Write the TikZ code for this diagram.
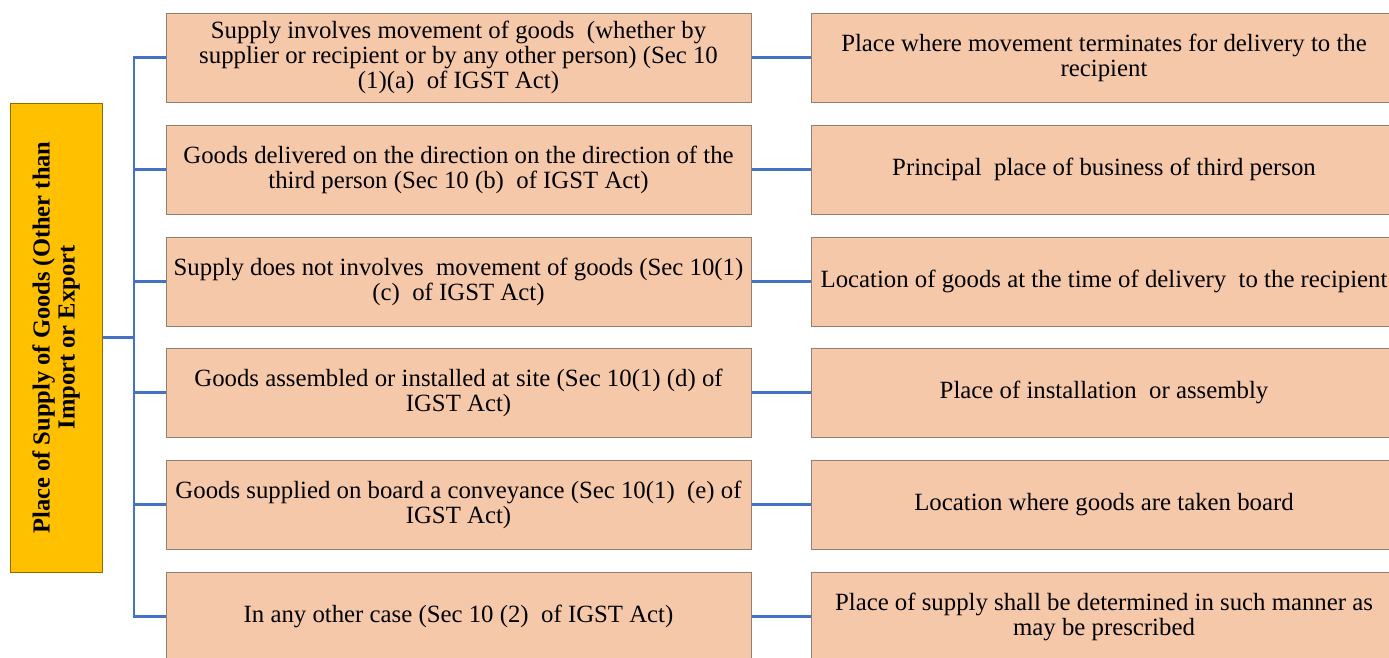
\documentclass[tikz,border=0pt]{standalone}
\usepackage{fontspec}
\setmainfont{Liberation Serif}
\definecolor{peach}{HTML}{F6C8AA}
\definecolor{boxedge}{HTML}{927F73}
\definecolor{gold}{HTML}{FFC000}
\definecolor{goldedge}{HTML}{8C6D00}
\definecolor{linkblue}{HTML}{4472C4}
\begin{document}
\begin{tikzpicture}[x=1pt,y=-1pt,
  box/.style={draw=boxedge, fill=peach, line width=1pt, minimum height=89pt,
    align=center, inner sep=0pt, font=\fontsize{24.8}{25}\selectfont},
  casebox/.style={box, minimum width=585pt},
  rulebox/.style={box, minimum width=586pt},
  rootbox/.style={draw=goldedge, fill=gold, line width=1pt, rotate=90,
    minimum width=469pt, minimum height=92pt, align=center, inner sep=0pt,
    font=\fontsize{24.5}{25}\selectfont\bfseries},
  link/.style={draw=linkblue, line width=2.5pt}]
\clip (0,0) rectangle (1389,657);
\fill[white] (0,0) rectangle (1389,657);

% root of the tree
\node[rootbox] (root) at (56,337.5) {Place of Supply of Goods (Other than\\Import or Export};

% cases (left column)
\node[casebox] (L1) at (458.5,57.5) {Supply involves movement of goods~ (whether by\\supplier or recipient or by any other person) (Sec 10\\(1)(a)~ of IGST Act)};
\node[casebox] (L2) at (458.5,169.5) {Goods delivered on the direction on the direction of the\\third person (Sec 10 (b)~ of IGST Act)};
\node[casebox] (L3) at (458.5,281.5) {Supply does not involves~ movement of goods (Sec 10(1)\\(c)~ of IGST Act)};
\node[casebox] (L4) at (458.5,392.5) {Goods assembled or installed at site (Sec 10(1) (d) of\\IGST Act)};
\node[casebox] (L5) at (458.5,504.5) {Goods supplied on board a conveyance (Sec 10(1)~ (e) of\\IGST Act)};
\node[casebox] (L6) at (458.5,616.5) {In any other case (Sec 10 (2)~ of IGST Act)};

% place of supply (right column)
\node[rulebox] (R1) at (1104,57.5) {Place where movement terminates for delivery to the\\recipient};
\node[rulebox] (R2) at (1104,169.5) {Principal~ place of business of third person};
\node[rulebox] (R3) at (1104,281.5) {Location of goods at the time of delivery~ to the recipient};
\node[rulebox] (R4) at (1104,392.5) {Place of installation~ or assembly};
\node[rulebox] (R5) at (1104,504.5) {Location where goods are taken board};
\node[rulebox] (R6) at (1104,616.5) {Place of supply shall be determined in such manner as\\may be prescribed};

% connectors
\coordinate (trunk) at (134,337.5);
\draw[link] (root.south) -- (trunk);
\foreach \i in {1,...,6} {
  \draw[link] (trunk) |- (L\i.west);
  \draw[link] (L\i.east) -- (R\i.west);
}
\end{tikzpicture}
\end{document}
